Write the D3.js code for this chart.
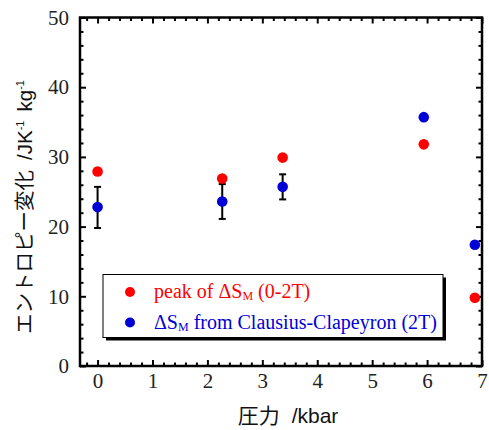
<!DOCTYPE html>
<html>
<head>
<meta charset="utf-8">
<script src="https://cdn.jsdelivr.net/npm/d3@7"></script>
<style>
  body { margin: 0; background: #fff; }
  svg { display: block; }
</style>
</head>
<body>
<svg id="chart" width="489" height="430"></svg>
<script>
var pressure = [0, 2.27, 3.37, 5.94, 6.87];
var peakDS = [27.9, 26.9, 29.9, 31.8, 9.8];
var ccDS = [22.8, 23.6, 25.7, 35.7, 17.4];
var ccErrLow = [19.8, 21.1, 23.9, null, null];
var ccErrHigh = [25.7, 26.1, 27.5, null, null];
var xTicks = [0, 1, 2, 3, 4, 5, 6, 7];
var yTicks = [0, 10, 20, 30, 40, 50];

var RED = '#ff0000', BLUE = '#0000d6';
var SERIF = '"Liberation Serif", "Times New Roman", Times, serif';
var SANS = '"Liberation Sans", Arial, "Noto Sans CJK JP", sans-serif';
var PLOT = {left: 80, top: 17.5, right: 482, bottom: 366};

var svg = d3.select('#chart');
var x = d3.scaleLinear().domain([-0.32, 7]).range([PLOT.left, PLOT.right]);
var y = d3.scaleLinear().domain([0, 50]).range([PLOT.bottom, PLOT.top]);

var xMinor = d3.range(-0.2, 7.001, 0.2).filter(function(v) { return Math.abs(v - Math.round(v)) > 0.01; });
var yMinor = d3.range(2, 50, 2).filter(function(v) { return v % 10 != 0; });

function addAxis(axis, tx, ty, labels) {
    var g = svg.append('g').attr('transform', 'translate(' + tx + ',' + ty + ')').call(axis);
    g.attr('font-family', SERIF).attr('font-size', 21);
    g.select('.domain').remove();
    g.selectAll('.tick line').attr('stroke', '#000').attr('stroke-width', 2);
    if (!labels) g.selectAll('.tick text').remove();
    else g.selectAll('.tick text').style('font-family', SERIF).style('font-size', '21px').attr('fill', '#222');
    return g;
}

// bottom / top
addAxis(d3.axisBottom(x).tickValues(xTicks).tickSize(-6).tickPadding(7).tickFormat(d3.format('d')), 0, PLOT.bottom, true);
addAxis(d3.axisBottom(x).tickValues(xMinor).tickSize(-3.5).tickFormat(''), 0, PLOT.bottom, false);
addAxis(d3.axisTop(x).tickValues(xTicks).tickSize(-6).tickFormat(''), 0, PLOT.top, false);
addAxis(d3.axisTop(x).tickValues(xMinor).tickSize(-3.5).tickFormat(''), 0, PLOT.top, false);
// left / right
addAxis(d3.axisLeft(y).tickValues(yTicks).tickSize(-6).tickPadding(11).tickFormat(d3.format('d')), PLOT.left, 0, true);
addAxis(d3.axisLeft(y).tickValues(yMinor).tickSize(-3.5).tickFormat(''), PLOT.left, 0, false);
addAxis(d3.axisRight(y).tickValues(yTicks).tickSize(-6).tickFormat(''), PLOT.right, 0, false);
addAxis(d3.axisRight(y).tickValues(yMinor).tickSize(-3.5).tickFormat(''), PLOT.right, 0, false);

// frame
svg.append('rect')
    .attr('x', PLOT.left).attr('y', PLOT.top)
    .attr('width', PLOT.right - PLOT.left).attr('height', PLOT.bottom - PLOT.top)
    .attr('fill', 'none').attr('stroke', '#000').attr('stroke-width', 2.5);

// legend box with drop shadow
var lg = {x: 103, y: 274.5, w: 340, h: 63};
svg.append('rect').attr('x', lg.x + 3).attr('y', lg.y + 3).attr('width', lg.w).attr('height', lg.h).attr('fill', '#000');
svg.append('rect').attr('x', lg.x).attr('y', lg.y).attr('width', lg.w).attr('height', lg.h)
    .attr('fill', '#fff').attr('stroke', '#000').attr('stroke-width', 1);

var legendRows = [
    {color: RED, parts: [['peak of ', 0], ['ΔS', 0], ['M', 1], [' (0-2T)', 0]], cy: 292},
    {color: BLUE, parts: [['ΔS', 0], ['M', 1], [' from Clausius-Clapeyron (2T)', 0]], cy: 322.5}
];
legendRows.forEach(function(r) {
    svg.append('circle').attr('cx', 130).attr('cy', r.cy).attr('r', 5).attr('fill', r.color);
    var t = svg.append('text').attr('x', 154).attr('y', r.cy + 6)
        .attr('fill', r.color)
        .style('font-family', SERIF)
        .style('font-size', '20px');
    var shifted = false;
    r.parts.forEach(function(p) {
        var s = t.append('tspan').text(p[0]);
        if (p[1]) { s.style('font-size', '12px').attr('dy', 2); shifted = true; }
        else if (shifted) { s.attr('dy', -2); shifted = false; }
    });
});

// error bars
var errIdx = d3.range(pressure.length).filter(function(i) { return ccErrLow[i] != null; });
var eb = svg.append('g').attr('stroke', '#000').attr('stroke-width', 2);
errIdx.forEach(function(i) {
    var cx = x(pressure[i]);
    eb.append('line').attr('x1', cx).attr('x2', cx).attr('y1', y(ccErrLow[i])).attr('y2', y(ccErrHigh[i]));
    eb.append('line').attr('x1', cx - 3.5).attr('x2', cx + 3.5).attr('y1', y(ccErrLow[i])).attr('y2', y(ccErrLow[i]));
    eb.append('line').attr('x1', cx - 3.5).attr('x2', cx + 3.5).attr('y1', y(ccErrHigh[i])).attr('y2', y(ccErrHigh[i]));
});

// points
svg.append('g').selectAll('circle').data(pressure).enter().append('circle')
    .attr('cx', function(d) { return x(d); })
    .attr('cy', function(d, i) { return y(peakDS[i]); })
    .attr('r', 5.3).attr('fill', RED);
svg.append('g').selectAll('circle').data(pressure).enter().append('circle')
    .attr('cx', function(d) { return x(d); })
    .attr('cy', function(d, i) { return y(ccDS[i]); })
    .attr('r', 5.3).attr('fill', BLUE);

// axis titles
var xl = svg.append('text').attr('x', 288).attr('y', 423).attr('text-anchor', 'middle')
    .style('font-family', SANS).style('font-size', '21px').attr('fill', '#111');
xl.append('tspan').text('圧力');
xl.append('tspan').attr('dx', 12).text('/kbar');

var yl = svg.append('text').attr('transform', 'translate(32,207) rotate(-90)').attr('text-anchor', 'middle')
    .style('font-family', SANS).style('font-size', '20.5px').attr('fill', '#111');
yl.append('tspan').text('エントロピー変化');
yl.append('tspan').attr('dx', 10).text('/JK');
yl.append('tspan').text('-1').style('font-size', '11px').attr('dy', -8);
yl.append('tspan').text('kg').attr('dy', 8).attr('dx', 9);
yl.append('tspan').text('-1').style('font-size', '11px').attr('dy', -8);
</script>
</body>
</html>
